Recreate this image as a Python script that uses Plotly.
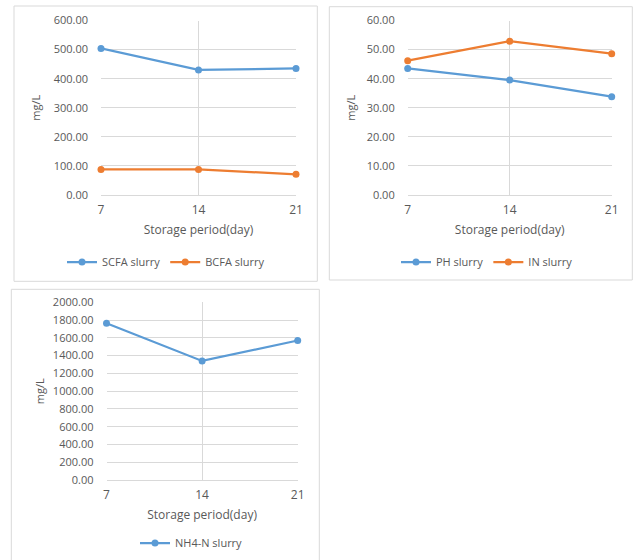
import plotly.graph_objects as go

W, H = 641, 560

days = [7, 14, 21]
scfa_slurry = [504, 430, 435]
bcfa_slurry = [88, 88, 71]
ph_slurry = [43.5, 39.5, 33.8]
in_slurry = [46.2, 52.9, 48.6]
nh4n_slurry = [1765, 1340, 1570]

BLUE = "#5B9BD5"
ORANGE = "#ED7D31"
GRID = "#D9D9D9"
TXT = "#595959"
FONT = "Open Sans"


def px_x(x):
    return x / W


def px_y(y):
    return 1 - y / H


fig = go.Figure()


def add_series(x, y, name, color, xa, ya, legend):
    fig.add_trace(go.Scatter(
        x=x, y=y, name=name, mode="lines+markers",
        line=dict(color=color, width=2.25),
        marker=dict(color=color, size=7),
        xaxis=xa, yaxis=ya, legend=legend, cliponaxis=False,
    ))


add_series(days, scfa_slurry, "SCFA slurry", BLUE, "x", "y", "legend")
add_series(days, bcfa_slurry, "BCFA slurry", ORANGE, "x", "y", "legend")
add_series(days, ph_slurry, "PH slurry", BLUE, "x2", "y2", "legend2")
add_series(days, in_slurry, "IN slurry", ORANGE, "x2", "y2", "legend2")
add_series(days, nh4n_slurry, "NH4-N slurry", BLUE, "x3", "y3", "legend3")

panels = [
    # (plot x0, x1, y_top, y_bottom, ymax, dtick, title standoff)
    (101, 296, 20.5, 195, 600, 100, 10),
    (407.7, 611.7, 20.5, 195, 60, 10, 8),
    (106.5, 297.7, 302.3, 480, 2000, 200, 6),
]

layout = dict(
    width=W, height=H, margin=dict(l=0, r=0, t=0, b=0, autoexpand=False),
    paper_bgcolor="white", plot_bgcolor="white",
    font=dict(family=FONT, color=TXT, size=11),
    showlegend=True,
)

for i, (x0, x1, yt, yb, ymax, dt, so) in enumerate(panels):
    sfx = "" if i == 0 else str(i + 1)
    layout["xaxis" + sfx] = dict(
        domain=[px_x(x0), px_x(x1)], anchor="y" + sfx,
        range=[7, 21], tickvals=days, ticktext=[str(d) for d in days],
        showgrid=True, gridcolor=GRID, gridwidth=1,
        showline=True, linecolor=GRID, linewidth=1,
        zeroline=False, ticks="", ticklabelstandoff=4,
        tickfont=dict(size=12, color=TXT, family=FONT),
        title=dict(text="Storage period(day)", font=dict(size=12, color=TXT, family=FONT), standoff=8),
        automargin=False, fixedrange=True,
    )
    layout["yaxis" + sfx] = dict(
        domain=[px_y(yb), px_y(yt)], anchor="x" + sfx,
        range=[0, ymax], dtick=dt, tick0=0, tickformat=".2f",
        showgrid=True, gridcolor=GRID, gridwidth=1,
        showline=False, zeroline=False, ticks="", ticklabelstandoff=12,
        tickfont=dict(size=11, color=TXT, family=FONT),
        title=dict(text="mg/L", font=dict(size=11, color=TXT, family=FONT), standoff=so),
        automargin=False, fixedrange=True,
    )

leg_common = dict(
    orientation="h", xanchor="left", yanchor="middle", yref="paper",
    font=dict(size=11, color=TXT, family=FONT), bgcolor="rgba(0,0,0,0)",
    itemwidth=30, tracegroupgap=0,
)
layout["legend"] = dict(leg_common, x=px_x(62), y=px_y(262))
layout["legend2"] = dict(leg_common, x=px_x(396), y=px_y(262))
layout["legend3"] = dict(leg_common, x=px_x(135), y=px_y(543))

borders = [
    (14, 6, 317.3, 281.3),
    (329.3, 6.7, 632.3, 280),
    (11.3, 289.3, 319.3, 575),
]
shapes = []
for (bx0, by0, bx1, by1) in borders:
    shapes.append(dict(type="rect", xref="paper", yref="paper",
                       x0=px_x(bx0), x1=px_x(bx1), y0=px_y(by1), y1=px_y(by0),
                       line=dict(color=GRID, width=1), fillcolor="rgba(0,0,0,0)", layer="below"))
layout["shapes"] = shapes

fig.update_layout(**layout)
fig.write_html("out.html")
